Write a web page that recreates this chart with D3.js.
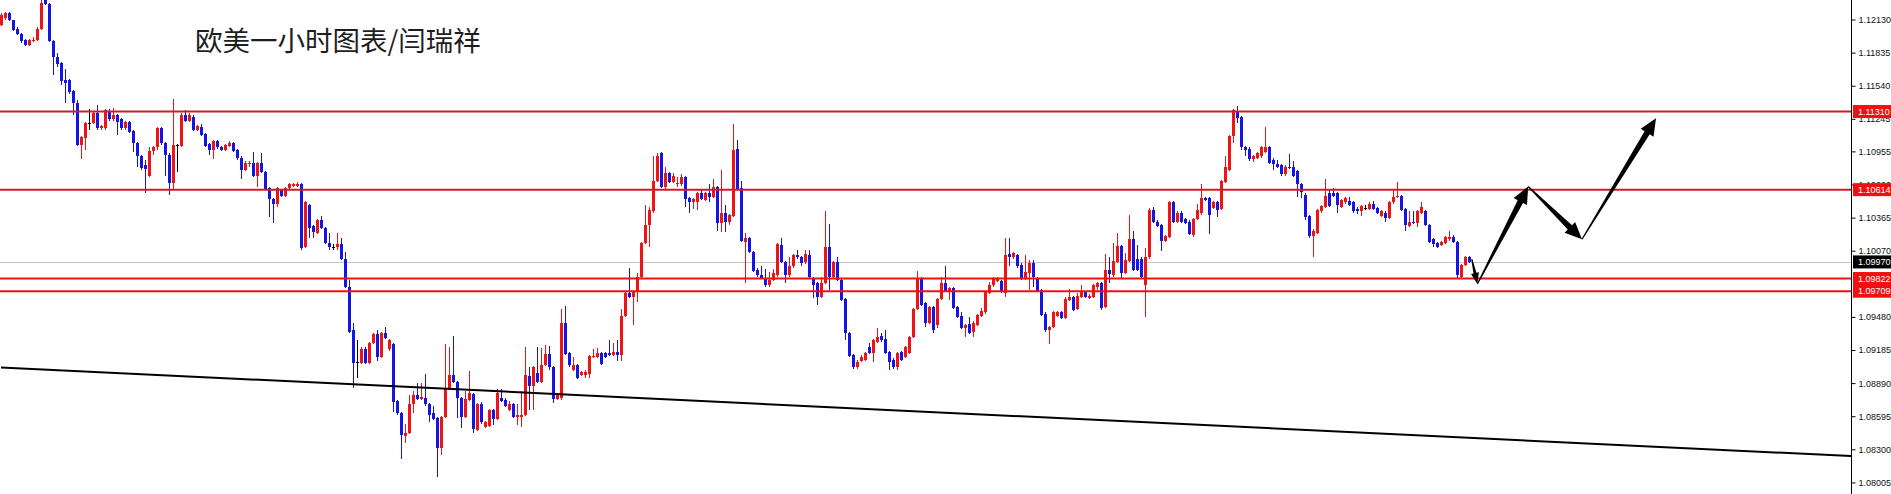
<!DOCTYPE html>
<html><head><meta charset="utf-8">
<script src="https://cdn.jsdelivr.net/npm/d3@7"></script>
<style>html,body{margin:0;padding:0;background:#fff;overflow:hidden}</style>
</head><body>
<svg id="chart" width="1891" height="494"></svg>
<script>
const title = "欧美一小时图表/闫瑞祥";
const opens = [1.1208,1.1214,1.1219,1.1213,1.1205,1.1200,1.1195,1.1190,1.1194,1.1195,
1.1205,1.1230,1.1227,1.1194,1.1180,1.1174,1.1159,1.1159,1.1149,1.1139,
1.1101,1.1107,1.1121,1.1121,1.1130,1.1116,1.1116,1.1131,1.1124,1.1128,
1.1124,1.1116,1.1122,1.1114,1.1103,1.1091,1.1083,1.1074,1.1096,1.1099,
1.1116,1.1103,1.1092,1.1067,1.1101,1.1100,1.1128,1.1123,1.1126,1.1115,
1.1117,1.1111,1.1102,1.1097,1.1105,1.1099,1.1097,1.1100,1.1103,1.1097,
1.1090,1.1079,1.1084,1.1085,1.1074,1.1085,1.1077,1.1063,1.1053,1.1049,
1.1061,1.1056,1.1063,1.1065,1.1065,1.1066,1.1010,1.1048,1.1029,1.1023,
1.1034,1.1027,1.1014,1.1010,1.1010,1.1013,1.1000,1.0975,1.0936,1.0908,
1.0907,1.0919,1.0907,1.0925,1.0933,1.0912,1.0934,1.0919,1.0924,1.0873,
1.0862,1.0842,1.0845,1.0870,1.0878,1.0875,1.0876,1.0870,1.0862,1.0858,
1.0831,1.0859,1.0884,1.0896,1.0890,1.0876,1.0859,1.0874,1.0879,1.0847,
1.0870,1.0850,1.0851,1.0865,1.0857,1.0876,1.0874,1.0865,1.0870,1.0859,
1.0859,1.0861,1.0895,1.0886,1.0898,1.0890,1.0905,1.0915,1.0903,1.0875,
1.0876,1.0943,1.0916,1.0901,1.0905,1.0896,1.0896,1.0897,1.0912,1.0912,
1.0916,1.0916,1.0916,1.0914,1.0917,1.0914,1.0949,1.0969,1.0966,1.0970,
1.0984,1.1014,1.1030,1.1042,1.1069,1.1094,1.1064,1.1076,1.1068,1.1066,
1.1066,1.1073,1.1054,1.1050,1.1050,1.1058,1.1052,1.1058,1.1055,1.1064,
1.1032,1.1041,1.1033,1.1038,1.1098,1.1063,1.1015,1.1018,1.1006,1.0990,
1.0985,1.0983,1.0976,1.0981,1.0985,1.1012,1.0997,1.0985,1.0993,1.1003,
1.1001,1.0997,1.1003,1.0983,1.0978,1.0966,1.0978,1.1010,1.0984,1.0997,
1.0981,1.0964,1.0934,1.0914,1.0903,1.0909,1.0910,1.0921,1.0916,1.0926,
1.0931,1.0928,1.0917,1.0910,1.0903,1.0917,1.0912,1.0916,1.0930,1.0955,
1.0983,1.0960,1.0943,1.0957,1.0941,1.0964,1.0978,1.0970,1.0974,1.0957,
1.0949,1.0938,1.0942,1.0935,1.0941,1.0949,1.0952,1.0969,1.0976,1.0980,
1.0980,1.0969,1.1004,1.1001,1.1003,1.0994,1.0982,1.0987,1.0996,1.0983,
1.0972,1.0951,1.0936,1.0939,1.0949,1.0952,1.0947,1.0963,1.0966,1.0955,
1.0966,1.0970,1.0965,1.0966,1.0975,1.0978,1.0957,1.0990,1.0985,1.0997,
1.1011,1.0987,1.0998,1.1017,1.1000,1.1000,1.0976,1.1001,1.1043,1.1033,
1.1030,1.1016,1.1019,1.1050,1.1033,1.1041,1.1035,1.1033,1.1021,1.1035,
1.1041,1.1054,1.1054,1.1045,1.1050,1.1044,1.1068,1.1079,1.1109,1.1131,
1.1126,1.1099,1.1098,1.1089,1.1090,1.1091,1.1095,1.1099,1.1088,1.1084,
1.1083,1.1075,1.1082,1.1082,1.1078,1.1066,1.1057,1.1038,1.1020,1.1023,
1.1042,1.1046,1.1058,1.1058,1.1058,1.1046,1.1050,1.1051,1.1050,1.1044,
1.1042,1.1045,1.1044,1.1049,1.1045,1.1038,1.1041,1.1036,1.1050,1.1055,
1.1056,1.1044,1.1029,1.1033,1.1032,1.1041,1.1042,1.1030,1.1017,1.1014,
1.1012,1.1014,1.1017,1.1019,1.1015,1.0984,1.0994,1.1001];
const highs = [1.1219,1.1220,1.1220,1.1213,1.1206,1.1201,1.1196,1.1196,1.1197,1.1206,
1.1230,1.1231,1.1228,1.1195,1.1183,1.1175,1.1169,1.1160,1.1150,1.1141,
1.1109,1.1122,1.1133,1.1131,1.1137,1.1119,1.1133,1.1133,1.1134,1.1129,
1.1125,1.1123,1.1123,1.1115,1.1104,1.1092,1.1088,1.1099,1.1100,1.1117,
1.1117,1.1104,1.1094,1.1142,1.1102,1.1130,1.1132,1.1130,1.1128,1.1119,
1.1120,1.1112,1.1103,1.1106,1.1106,1.1100,1.1102,1.1105,1.1104,1.1098,
1.1091,1.1087,1.1087,1.1095,1.1086,1.1094,1.1078,1.1064,1.1054,1.1064,
1.1062,1.1064,1.1067,1.1067,1.1068,1.1067,1.1051,1.1049,1.1030,1.1035,
1.1038,1.1028,1.1023,1.1013,1.1023,1.1018,1.1006,1.0981,1.0943,1.0927,
1.0921,1.0921,1.0926,1.0934,1.0936,1.0935,1.0939,1.0928,1.0925,1.0874,
1.0863,1.0853,1.0878,1.0882,1.0889,1.0889,1.0897,1.0871,1.0869,1.0859,
1.0860,1.0924,1.0921,1.0931,1.0891,1.0877,1.0882,1.0900,1.0880,1.0871,
1.0872,1.0855,1.0866,1.0866,1.0884,1.0884,1.0876,1.0873,1.0871,1.0870,
1.0882,1.0921,1.0903,1.0904,1.0921,1.0920,1.0923,1.0922,1.0904,1.0879,
1.0955,1.0958,1.0917,1.0912,1.0906,1.0900,1.0901,1.0914,1.0919,1.0920,
1.0917,1.0917,1.0927,1.0925,1.0927,1.0955,1.0970,1.0992,1.0971,1.0987,
1.1015,1.1048,1.1046,1.1091,1.1094,1.1095,1.1082,1.1077,1.1076,1.1073,
1.1075,1.1074,1.1055,1.1054,1.1059,1.1061,1.1059,1.1066,1.1071,1.1065,
1.1079,1.1048,1.1040,1.1120,1.1106,1.1069,1.1023,1.1019,1.1007,1.0992,
1.0993,1.0991,1.0988,1.0991,1.1014,1.1018,1.0998,1.1001,1.1004,1.1008,
1.1002,1.1008,1.1008,1.0984,1.0979,1.0984,1.1042,1.1031,1.0998,1.1001,
1.0982,1.0965,1.0935,1.0915,1.0910,1.0914,1.0917,1.0925,1.0928,1.0938,
1.0934,1.0936,1.0918,1.0911,1.0917,1.0918,1.0922,1.0931,1.0956,1.0989,
1.0984,1.0961,1.0958,1.0958,1.0965,1.0984,1.0993,1.0975,1.0975,1.0958,
1.0952,1.0942,1.0948,1.0944,1.0951,1.0956,1.0971,1.0979,1.0984,1.0984,
1.0981,1.1018,1.1018,1.1006,1.1004,1.0996,1.1003,1.0999,1.0999,1.0984,
1.0973,1.0952,1.0940,1.0953,1.0953,1.0953,1.0966,1.0973,1.0967,1.0969,
1.0976,1.0971,1.0968,1.0977,1.0979,1.0979,1.1004,1.1001,1.1014,1.1023,
1.1012,1.1005,1.1039,1.1025,1.1012,1.1001,1.1009,1.1045,1.1046,1.1034,
1.1031,1.1021,1.1051,1.1051,1.1042,1.1042,1.1036,1.1034,1.1036,1.1049,
1.1066,1.1055,1.1055,1.1051,1.1051,1.1070,1.1091,1.1110,1.1133,1.1136,
1.1127,1.1100,1.1099,1.1092,1.1095,1.1100,1.1117,1.1100,1.1090,1.1088,
1.1084,1.1083,1.1093,1.1087,1.1079,1.1067,1.1058,1.1039,1.1026,1.1044,
1.1048,1.1071,1.1062,1.1063,1.1059,1.1053,1.1055,1.1055,1.1051,1.1046,
1.1048,1.1048,1.1050,1.1051,1.1046,1.1043,1.1042,1.1051,1.1061,1.1068,
1.1057,1.1045,1.1042,1.1042,1.1043,1.1050,1.1043,1.1031,1.1018,1.1015,
1.1016,1.1020,1.1025,1.1021,1.1016,1.0995,1.1002,1.1002];
const lows = [1.1207,1.1213,1.1212,1.1203,1.1199,1.1192,1.1189,1.1189,1.1193,1.1194,
1.1204,1.1226,1.1193,1.1164,1.1171,1.1155,1.1139,1.1147,1.1128,1.1100,
1.1089,1.1097,1.1115,1.1120,1.1115,1.1115,1.1115,1.1123,1.1123,1.1110,
1.1115,1.1115,1.1112,1.1095,1.1082,1.1079,1.1058,1.1073,1.1092,1.1097,
1.1101,1.1074,1.1057,1.1061,1.1077,1.1099,1.1122,1.1122,1.1114,1.1114,
1.1109,1.1099,1.1092,1.1089,1.1098,1.1096,1.1096,1.1099,1.1095,1.1088,
1.1071,1.1078,1.1082,1.1073,1.1064,1.1076,1.1061,1.1037,1.1032,1.1046,
1.1055,1.1055,1.1062,1.1064,1.1064,1.1008,1.1009,1.1018,1.1018,1.1022,
1.1026,1.1013,1.1008,1.1008,1.1008,1.0999,1.0974,1.0934,1.0885,1.0894,
1.0906,1.0906,1.0906,1.0924,1.0909,1.0911,1.0928,1.0918,1.0863,1.0861,
1.0821,1.0836,1.0844,1.0862,1.0874,1.0874,1.0869,1.0854,1.0856,1.0805,
1.0825,1.0858,1.0883,1.0889,1.0858,1.0849,1.0858,1.0873,1.0845,1.0846,
1.0853,1.0849,1.0850,1.0852,1.0856,1.0872,1.0868,1.0864,1.0858,1.0852,
1.0850,1.0860,1.0865,1.0865,1.0889,1.0889,1.0904,1.0901,1.0871,1.0874,
1.0874,1.0914,1.0903,1.0900,1.0893,1.0895,1.0894,1.0894,1.0911,1.0911,
1.0905,1.0911,1.0913,1.0913,1.0909,1.0909,1.0948,1.0965,1.0941,1.0961,
1.0983,1.1013,1.1010,1.1041,1.1068,1.1063,1.1061,1.1067,1.1067,1.1064,
1.1065,1.1046,1.1041,1.1044,1.1043,1.1052,1.1051,1.1050,1.1054,1.1025,
1.1024,1.1024,1.1030,1.1037,1.1061,1.1015,1.0978,1.1005,1.0988,1.0984,
1.0982,1.0975,1.0975,1.0980,1.0984,1.0996,1.0978,1.0984,1.0992,1.1000,
1.0993,1.0995,1.0983,1.0965,1.0959,1.0965,1.0977,1.0972,1.0983,1.0980,
1.0962,1.0927,1.0912,1.0902,1.0902,1.0908,1.0909,1.0915,1.0908,1.0925,
1.0926,1.0915,1.0901,1.0902,1.0901,1.0909,1.0911,1.0915,1.0929,1.0954,
1.0958,1.0939,1.0942,1.0934,1.0938,1.0963,1.0970,1.0963,1.0955,1.0947,
1.0937,1.0930,1.0933,1.0930,1.0940,1.0948,1.0951,1.0968,1.0975,1.0979,
1.0969,1.0966,1.0993,1.1000,1.0992,1.0981,1.0981,1.0972,1.0975,1.0970,
1.0949,1.0935,1.0924,1.0938,1.0948,1.0946,1.0946,1.0962,1.0953,1.0954,
1.0965,1.0965,1.0964,1.0965,1.0972,1.0954,1.0956,1.0978,1.0984,1.0996,
1.0983,1.0986,1.0997,1.0989,1.0989,1.0983,1.0948,1.1000,1.1032,1.1028,
1.1007,1.1015,1.1018,1.1032,1.1032,1.1032,1.1031,1.1021,1.1019,1.1034,
1.1039,1.1051,1.1022,1.1044,1.1037,1.1043,1.1067,1.1078,1.1103,1.1121,
1.1097,1.1091,1.1087,1.1086,1.1089,1.1090,1.1094,1.1084,1.1079,1.1081,
1.1074,1.1074,1.1080,1.1073,1.1055,1.1054,1.1034,1.1018,1.1001,1.1022,
1.1041,1.1045,1.1046,1.1055,1.1041,1.1045,1.1049,1.1047,1.1041,1.1040,
1.1038,1.1043,1.1043,1.1043,1.1040,1.1037,1.1033,1.1035,1.1049,1.1054,
1.1042,1.1025,1.1028,1.1031,1.1028,1.1040,1.1029,1.1014,1.1010,1.1009,
1.1011,1.1013,1.1016,1.1014,1.0983,1.0982,1.0993,1.0996];
const closes = [1.1217,1.1219,1.1213,1.1204,1.1200,1.1194,1.1190,1.1195,1.1195,1.1205,
1.1228,1.1227,1.1194,1.1180,1.1173,1.1158,1.1156,1.1148,1.1139,1.1101,
1.1108,1.1121,1.1121,1.1130,1.1116,1.1118,1.1132,1.1124,1.1128,1.1122,
1.1116,1.1122,1.1113,1.1103,1.1091,1.1081,1.1080,1.1096,1.1099,1.1116,
1.1103,1.1092,1.1067,1.1101,1.1101,1.1128,1.1123,1.1128,1.1115,1.1118,
1.1110,1.1100,1.1097,1.1105,1.1099,1.1097,1.1101,1.1103,1.1096,1.1090,
1.1079,1.1085,1.1085,1.1074,1.1085,1.1077,1.1062,1.1053,1.1049,1.1063,
1.1056,1.1063,1.1066,1.1066,1.1066,1.1009,1.1050,1.1027,1.1024,1.1034,
1.1027,1.1014,1.1010,1.1010,1.1013,1.1000,1.0975,1.0935,1.0907,1.0908,
1.0919,1.0907,1.0925,1.0933,1.0912,1.0934,1.0929,1.0927,1.0872,1.0862,
1.0843,1.0845,1.0870,1.0878,1.0875,1.0877,1.0870,1.0861,1.0857,1.0831,
1.0859,1.0884,1.0896,1.0890,1.0876,1.0859,1.0875,1.0880,1.0848,1.0870,
1.0854,1.0854,1.0865,1.0857,1.0880,1.0873,1.0869,1.0870,1.0859,1.0861,
1.0861,1.0896,1.0886,1.0903,1.0890,1.0905,1.0915,1.0903,1.0875,1.0878,
1.0943,1.0915,1.0905,1.0905,1.0894,1.0899,1.0899,1.0913,1.0913,1.0916,
1.0906,1.0912,1.0914,1.0917,1.0914,1.0949,1.0969,1.0966,1.0970,1.0984,
1.1014,1.1030,1.1043,1.1069,1.1091,1.1064,1.1076,1.1068,1.1074,1.1067,
1.1073,1.1053,1.1050,1.1053,1.1058,1.1053,1.1058,1.1055,1.1064,1.1032,
1.1041,1.1033,1.1039,1.1097,1.1062,1.1016,1.1018,1.1006,1.0989,1.0985,
1.0983,1.0976,1.0981,1.0987,1.1013,1.0997,1.0985,1.0993,1.1003,1.1001,
1.0996,1.1004,1.0984,1.0976,1.0966,1.0978,1.1010,1.0984,1.0997,1.0981,
1.0963,1.0934,1.0913,1.0903,1.0908,1.0912,1.0916,1.0916,1.0927,1.0930,
1.0927,1.0916,1.0908,1.0903,1.0916,1.0910,1.0921,1.0930,1.0955,1.0982,
1.0959,1.0943,1.0957,1.0936,1.0964,1.0978,1.0971,1.0974,1.0956,1.0948,
1.0938,1.0941,1.0934,1.0943,1.0950,1.0953,1.0970,1.0976,1.0982,1.0983,
1.0970,1.1003,1.1001,1.1005,1.0993,1.0982,1.0988,1.0996,1.0984,1.0971,
1.0950,1.0936,1.0939,1.0952,1.0952,1.0947,1.0964,1.0966,1.0954,1.0967,
1.0971,1.0966,1.0967,1.0976,1.0978,1.0956,1.0990,1.0986,1.0998,1.1011,
1.0987,1.0999,1.1017,1.0990,1.0990,1.0984,1.1001,1.1043,1.1033,1.1029,
1.1016,1.1020,1.1050,1.1033,1.1041,1.1033,1.1032,1.1022,1.1035,1.1043,
1.1054,1.1052,1.1039,1.1050,1.1043,1.1069,1.1082,1.1109,1.1132,1.1125,
1.1099,1.1097,1.1089,1.1091,1.1094,1.1099,1.1099,1.1085,1.1084,1.1082,
1.1075,1.1082,1.1081,1.1074,1.1066,1.1059,1.1037,1.1020,1.1025,1.1043,
1.1047,1.1056,1.1047,1.1056,1.1048,1.1052,1.1054,1.1048,1.1042,1.1042,
1.1047,1.1045,1.1049,1.1044,1.1041,1.1042,1.1036,1.1050,1.1055,1.1056,
1.1043,1.1030,1.1033,1.1032,1.1042,1.1046,1.1030,1.1015,1.1013,1.1010,
1.1015,1.1019,1.1019,1.1015,1.0985,1.0994,1.1001,1.0997];

const levelPrices = [1.11310, 1.10614, 1.09822, 1.09709];
const levelLabels = ["1.11310", "1.10614", "1.09822", "1.09709"];
const currentPrice = 1.09970;
const currentLabel = "1.09970";
const tickLabels = ["1.12130","1.11835","1.11540","1.11245","1.10955","1.10660","1.10365","1.10070","1.09480","1.09185","1.08890","1.08595","1.08300","1.08005"];
const trendIdx = [0, 462.5];
const trendPrice = [1.0903, 1.0824];
const arrowIdx = [367.7, 369.1, 381.8, 395.25, 413.75];
const arrowPrice = [1.09994, 1.09774, 1.10642, 1.10172, 1.11250];

const W = 1891, H = 494, axisX = 1851;
const svg = d3.select("#chart");
const x = d3.scaleLinear().domain([0, 462.5]).range([1, axisX]);
const y = d3.scaleLinear().domain([1.07902, 1.12304]).range([H, 0]);

svg.append("rect").attr("width", W).attr("height", H).attr("fill", "#ffffff");

// current price (gray) line
svg.append("line").attr("x1", 0).attr("x2", axisX).attr("y1", Math.round(y(currentPrice)) + 0.5).attr("y2", Math.round(y(currentPrice)) + 0.5)
  .attr("stroke", "#c4c4c4").attr("stroke-width", 1);

// candles
const candles = opens.map((o, i) => ({i, o, h: highs[i], l: lows[i], c: closes[i]}));
const colorOf = d => d.c > d.o ? "#ee1414" : (d.c < d.o ? "#1414e6" : "#000000");
const g = svg.append("g").attr("shape-rendering", "crispEdges");
const cg = g.selectAll("g.candle").data(candles).join("g").attr("class", "candle");
cg.append("rect")
  .attr("x", d => Math.round(x(d.i)))
  .attr("width", 1)
  .attr("y", d => Math.round(y(Math.max(d.h, d.o, d.c))))
  .attr("height", d => Math.max(1, Math.round(y(Math.min(d.l, d.o, d.c))) - Math.round(y(Math.max(d.h, d.o, d.c)))))
  .attr("fill", colorOf);
cg.append("rect")
  .attr("x", d => Math.round(x(d.i)) - 1)
  .attr("width", 3)
  .attr("y", d => Math.round(y(Math.max(d.o, d.c))))
  .attr("height", d => Math.max(1, Math.round(y(Math.min(d.o, d.c))) - Math.round(y(Math.max(d.o, d.c)))))
  .attr("fill", colorOf);

// horizontal levels
svg.selectAll("line.level").data(levelPrices).join("line").attr("class", "level")
  .attr("x1", 0).attr("x2", axisX)
  .attr("y1", d => y(d)).attr("y2", d => y(d))
  .attr("stroke", (d, i) => i < 2 ? "#c81e2a" : "#ee1111").attr("stroke-width", 2);

// trend line
svg.append("line")
  .attr("x1", x(trendIdx[0])).attr("y1", y(trendPrice[0]))
  .attr("x2", x(trendIdx[1])).attr("y2", y(trendPrice[1]))
  .attr("stroke", "#000").attr("stroke-width", 2);

// arrows
function arrowPath(ax, ay, bx, by, headLen, headHalf, shaftHalf) {
  const dx = bx - ax, dy = by - ay, len = Math.hypot(dx, dy);
  const ux = dx / len, uy = dy / len, nx = -uy, ny = ux;
  const bsx = bx - ux * headLen, bsy = by - uy * headLen;
  const p = [
    [ax + nx * 0.6, ay + ny * 0.6],
    [bsx + nx * shaftHalf, bsy + ny * shaftHalf],
    [bsx + nx * headHalf, bsy + ny * headHalf],
    [bx, by],
    [bsx - nx * headHalf, bsy - ny * headHalf],
    [bsx - nx * shaftHalf, bsy - ny * shaftHalf],
    [ax - nx * 0.6, ay - ny * 0.6]
  ];
  return "M" + p.map(q => q[0].toFixed(2) + "," + q[1].toFixed(2)).join("L") + "Z";
}
const arrowG = svg.append("g");
for (let k = 0; k < arrowIdx.length - 1; k++) {
  const ax = x(arrowIdx[k]), ay = y(arrowPrice[k]), bx = x(arrowIdx[k + 1]), by = y(arrowPrice[k + 1]);
  const small = k === 0;
  arrowG.append("path")
    .attr("d", arrowPath(ax, ay, bx, by, small ? 11 : 17, small ? 4 : 7.5, small ? 1.5 : 3))
    .attr("fill", "#000");
}

// title
svg.append("text").attr("x", 195).attr("y", 51)
  .attr("font-family", "'Noto Sans CJK SC', sans-serif").attr("font-size", 27.5)
  .attr("fill", "#1e1e1e").text(title);

// right axis
svg.append("rect").attr("x", axisX + 1).attr("y", 0).attr("width", W - axisX - 1).attr("height", H).attr("fill", "#fff");
svg.append("line").attr("x1", axisX + 0.5).attr("x2", axisX + 0.5).attr("y1", 0).attr("y2", H)
  .attr("stroke", "#000").attr("stroke-width", 1);
const yAxis = d3.axisRight(y).tickValues(tickLabels.map(Number)).tickSize(4).tickPadding(3)
  .tickFormat((d, i) => tickLabels[i]);
const ax = svg.append("g").attr("transform", `translate(${axisX + 0.5},0)`).call(yAxis);
ax.select(".domain").remove();
ax.selectAll("text").attr("font-family", "'Liberation Sans', Arial, sans-serif").attr("font-size", 9).attr("fill", "#111");
ax.selectAll("line").attr("stroke", "#000");

// price labels
function priceTag(price, label, bg) {
  const yy = y(price);
  svg.append("rect").attr("x", axisX + 2).attr("y", yy - 6.5).attr("width", W - axisX - 2).attr("height", 13).attr("fill", bg);
  svg.append("text").attr("x", axisX + 7).attr("y", yy).attr("dy", "0.35em")
    .attr("font-family", "'Liberation Sans', Arial, sans-serif").attr("font-size", 9)
    .attr("fill", "#fff").text(label);
}
priceTag(currentPrice, currentLabel, "#000");
levelPrices.forEach((p, i) => priceTag(p, levelLabels[i], "#f01010"));
</script>
</body></html>
